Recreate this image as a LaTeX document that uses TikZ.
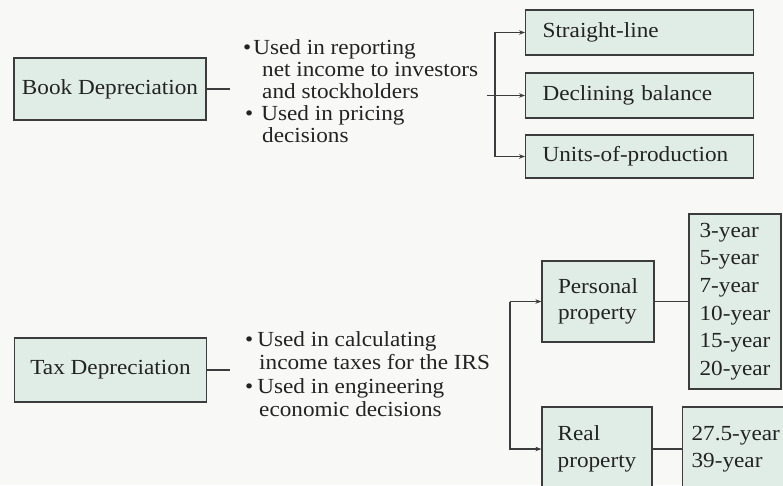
\documentclass[tikz,border=0pt]{standalone}
\usepackage{fontspec}
\setmainfont[FakeStretch=1.08]{Liberation Serif}
\usetikzlibrary{arrows.meta}
\definecolor{boxfill}{RGB}{224,237,230}
\definecolor{ink}{RGB}{35,35,35}
\definecolor{linec}{RGB}{60,60,60}
\definecolor{bg}{RGB}{248,248,246}
\begin{document}
\begin{tikzpicture}[x=1pt,y=-1pt,
  lbl/.style={text=ink, inner sep=0pt},
  box/.style={draw=linec, fill=boxfill, line width=1.2pt, text=ink},
  conn/.style={draw=linec, line width=1.2pt},
  arr/.style={conn, -{Stealth[length=6pt,width=4.5pt]}}]
\useasboundingbox (0,0) rectangle (783,485);
\clip (0,0) rectangle (783,485);
\fill[bg] (0,0) rectangle (783,485);

% ---- Book depreciation ----
\node[box, minimum width=192pt, minimum height=62pt, font=\fontsize{21.5}{22}\selectfont] (book) at (110,89) {Book Depreciation};
\coordinate (bookend) at (230,89);
\draw[conn] (book.east) -- (bookend);
\node[lbl, anchor=west, align=left, font=\fontsize{21.5}{22}\selectfont] (bookbul) at (243,91)
  {•\hspace{2pt}Used in reporting\\
   \hspace*{19pt}net income to investors\\
   \hspace*{19pt}and stockholders\\
   \hspace*{2pt}•\hspace{8pt}Used in pricing\\
   \hspace*{19pt}decisions};

\node[box, anchor=west, text width=194pt, inner xsep=17pt, minimum height=45pt, align=left, font=\fontsize{21.5}{22}\selectfont] (sl) at (525,32.5) {Straight-line};
\node[box, anchor=west, text width=194pt, inner xsep=17pt, minimum height=45pt, align=left, font=\fontsize{21.5}{22}\selectfont] (db) at (525,95.5) {Declining balance};
\node[box, anchor=west, text width=194pt, inner xsep=17pt, minimum height=43pt, align=left, font=\fontsize{21.5}{22}\selectfont] (up) at (525,156.5) {Units-of-production};

\coordinate (bj) at (487,95.5);
\coordinate (bv) at (495,95.5);
\draw[conn] (bj) -- (bv);
\draw[arr] (bv) |- (sl.west);
\draw[arr] (bv) -- (db.west);
\draw[arr] (bv) |- (up.west);

% ---- Tax depreciation ----
\node[box, minimum width=192pt, minimum height=64pt, font=\fontsize{21.5}{22}\selectfont] (tax) at (110.5,370) {Tax Depreciation};
\coordinate (taxend) at (230,370);
\draw[conn] (tax.east) -- (taxend);
\node[lbl, anchor=west, align=left, font=\fontsize{21.5}{23.5}\selectfont] (taxbul) at (245,374)
  {•\hspace{4pt}Used in calculating\\
   \hspace*{14pt}income taxes for the IRS\\
   •\hspace{4pt}Used in engineering\\
   \hspace*{14pt}economic decisions};

\node[box, minimum width=112pt, minimum height=81pt, align=left, font=\fontsize{21.5}{26.5}\selectfont] (pers) at (598,301.5) {Personal\\property};
\node[box, minimum width=92pt, minimum height=175pt, align=left, font=\fontsize{21.5}{27.6}\selectfont] (years) at (735,301.5)
  {3-year\\5-year\\7-year\\10-year\\15-year\\20-year};
\node[box, minimum width=110pt, minimum height=84pt, align=left, font=\fontsize{21.5}{26.5}\selectfont] (real) at (597,449) {Real\\property};
\node[box, anchor=west, minimum height=84pt, inner xsep=9pt, align=left, font=\fontsize{21.5}{26.5}\selectfont] (rp) at (682,449) {27.5-year\\39-year};

\coordinate (tvx) at (510,0);
\draw[arr] (pers.west -| tvx) -- (pers.west);
\draw[arr] (pers.west -| tvx) |- (real.west);
\draw[conn] (pers.east) -- (years.west);
\draw[conn] (real.east) -- (rp.west);
\end{tikzpicture}
\end{document}
